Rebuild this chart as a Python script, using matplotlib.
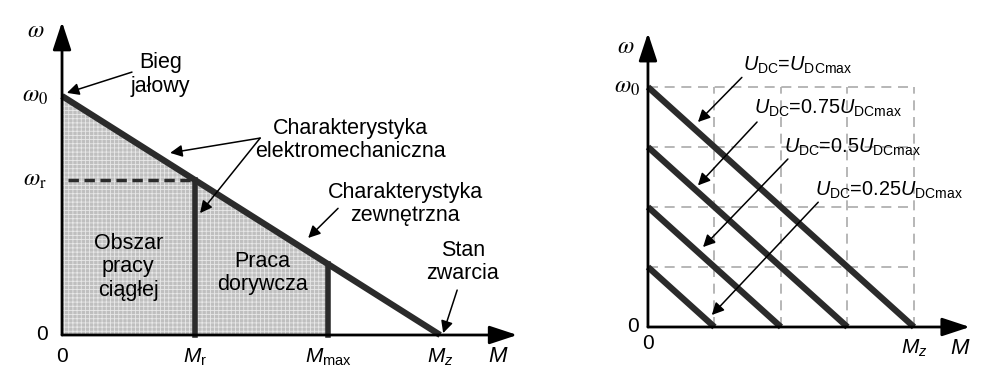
import matplotlib.pyplot as plt
import numpy as np
from matplotlib.patches import Polygon

plt.rcParams['font.family'] = ['Liberation Sans', 'DejaVu Sans']
plt.rcParams['mathtext.fontset'] = 'custom'
plt.rcParams['mathtext.rm'] = 'Liberation Sans'
plt.rcParams['mathtext.it'] = 'Liberation Sans:italic'
plt.rcParams['hatch.linewidth'] = 0.6

# left panel: normalised characteristic  omega = w0 * (1 - M / Mz)
w0 = 1.0
Mz = 1.0
Mr = 0.352
Mmax = 0.704
M_ticks = [0, Mr, Mmax, Mz]
M_tick_labels = ['0', r'$M_{\mathrm{r}}$', r'$M_{\mathrm{max}}$', r'$M_{z}$']

# right panel: characteristics for several supply voltages
u_levels = [1.0, 0.75, 0.5, 0.25]
u_labels = [r'$U_{\mathrm{DC}}$=$U_{\mathrm{DCmax}}$',
            r'$U_{\mathrm{DC}}$=0.75$U_{\mathrm{DCmax}}$',
            r'$U_{\mathrm{DC}}$=0.5$U_{\mathrm{DCmax}}$',
            r'$U_{\mathrm{DC}}$=0.25$U_{\mathrm{DCmax}}$']
u_label_pos = [(0.357, 1.09), (0.40, 0.91), (0.51, 0.75), (0.628, 0.57)]
u_arrow_tail = [(0.353, 1.04), (0.41, 0.854), (0.526, 0.70), (0.64, 0.52)]
u_arrow_head = [(0.188, 0.854), (0.188, 0.59), (0.207, 0.333), (0.24, 0.05)]

line_col = '#2b2b2b'
fs = 15.5      # annotation text
fs_t = 15      # tick-like labels
fs_u = 14.3    # U_DC labels

fig = plt.figure(figsize=(9.89, 3.83), dpi=100)

def omega(m, k=1.0):
    return k * w0 * (1 - m / Mz)

def axis_arrows(ax, xend, yend):
    style = '-|>,head_length=0.85,head_width=0.28'
    ax.annotate('', xy=(xend, 0), xytext=(0, 0),
                arrowprops=dict(arrowstyle=style, lw=2, color='k', mutation_scale=20,
                                shrinkA=0, shrinkB=0))
    ax.annotate('', xy=(0, yend), xytext=(0, 0),
                arrowprops=dict(arrowstyle=style, lw=2, color='k', mutation_scale=20,
                                shrinkA=0, shrinkB=0))

def arrow(ax, head, tail):
    ax.annotate('', xy=head, xytext=tail,
                arrowprops=dict(arrowstyle='-|>', lw=1.1, color='k', mutation_scale=18,
                                shrinkA=0, shrinkB=0))

def omega_label(ax, x, y, s):
    ax.text(x, y, s, ha='center', va='center', fontsize=fs_t + 2, math_fontfamily='stix')

# ---------------- left panel
ax1 = fig.add_axes([0, 0, 0.53, 1])
ax1.set_xlim(-62 / 378, (524 - 62) / 378)
ax1.set_ylim(-48 / 239, 335 / 239)
ax1.axis('off')

m_fill = np.linspace(0, Mmax, 50)
pts = [(0, 0)] + list(zip(m_fill, omega(m_fill))) + [(Mmax, 0)]
ax1.add_patch(Polygon(pts, closed=True, facecolor='#bfbfbf', edgecolor='#e8e8e8',
                      hatch='++++', lw=0, zorder=1))

ax1.plot([0, Mz], [omega(0), omega(Mz)], color=line_col, lw=4.5, solid_capstyle='butt', zorder=3)
ax1.plot([Mr, Mr], [0, omega(Mr)], color=line_col, lw=4, zorder=3)
ax1.plot([Mmax, Mmax], [0, omega(Mmax)], color=line_col, lw=4, zorder=3)
ax1.plot([0.015, Mr], [omega(Mr), omega(Mr)], color=line_col, lw=2.5, ls=(0, (3, 1.6)), zorder=3)
axis_arrows(ax1, 1.204, 1.31)

for m, lab in zip(M_ticks, M_tick_labels):
    ax1.text(m, -0.092, lab, ha='center', va='center', fontsize=fs_t)
ax1.text(1.153, -0.092, r'$M$', ha='center', va='center', fontsize=fs_t + 1)
ax1.text(-0.053, 0.0, '0', ha='center', va='center', fontsize=fs_t)
omega_label(ax1, -0.072, omega(0), r'$\omega_0$')
omega_label(ax1, -0.072, omega(Mr), r'$\omega_{\mathrm{r}}$')
omega_label(ax1, -0.07, 1.27, r'$\omega$')

ax1.text(0.26, 1.09, 'Bieg\njałowy', ha='center', va='center', fontsize=fs, linespacing=1.15)
arrow(ax1, (0.013, 1.013), (0.185, 1.10))
ax1.text(0.762, 0.816, 'Charakterystyka\nelektromechaniczna', ha='center', va='center',
         fontsize=fs, linespacing=1.1)
arrow(ax1, (0.286, 0.762), (0.524, 0.824))
arrow(ax1, (0.365, 0.51), (0.524, 0.824))
ax1.text(0.907, 0.548, 'Charakterystyka\nzewnętrzna', ha='center', va='center',
         fontsize=fs, linespacing=1.1)
arrow(ax1, (0.651, 0.406), (0.73, 0.53))
ax1.text(1.06, 0.305, 'Stan\nzwarcia', ha='center', va='center', fontsize=fs, linespacing=1.1)
arrow(ax1, (1.008, 0.008), (1.045, 0.188))
ax1.text(0.175, 0.285, 'Obszar\npracy\nciągłej', ha='center', va='center', fontsize=fs,
         linespacing=1.15, zorder=4)
ax1.text(0.529, 0.26, 'Praca\ndorywcza', ha='center', va='center', fontsize=fs,
         linespacing=1.15, zorder=4)

# ---------------- right panel
ax2 = fig.add_axes([0.55, 0, 0.45, 1])
ax2.set_xlim((544 - 648) / 266, (989 - 648) / 266)
ax2.set_ylim(-56 / 240, 327 / 240)
ax2.axis('off')

for g in [0.25, 0.5, 0.75, 1.0]:
    ax2.plot([0, Mz], [g, g], color='#aaaaaa', lw=1.2, ls=(0, (6, 4)), zorder=1)
    ax2.plot([g, g], [0, w0], color='#aaaaaa', lw=1.2, ls=(0, (6, 4)), zorder=1)

for k in u_levels:
    ax2.plot([0, k * Mz], [omega(0, k), 0], color=line_col, lw=4.5, solid_capstyle='butt', zorder=3)

axis_arrows(ax2, 1.21, 1.225)

for lab, pos, tail, head in zip(u_labels, u_label_pos, u_arrow_tail, u_arrow_head):
    ax2.text(pos[0], pos[1], lab, ha='left', va='center', fontsize=fs_u, zorder=4)
    arrow(ax2, head, tail)

ax2.text(-0.055, 0.0, '0', ha='center', va='center', fontsize=fs_t)
ax2.text(0.0, -0.07, '0', ha='center', va='center', fontsize=fs_t)
ax2.text(Mz, -0.088, r'$M_{z}$', ha='center', va='center', fontsize=fs_t)
ax2.text(1.173, -0.088, r'$M$', ha='center', va='center', fontsize=fs_t + 1)
omega_label(ax2, -0.08, w0, r'$\omega_0$')
omega_label(ax2, -0.085, 1.165, r'$\omega$')

fig.savefig('out.png', dpi=100)
